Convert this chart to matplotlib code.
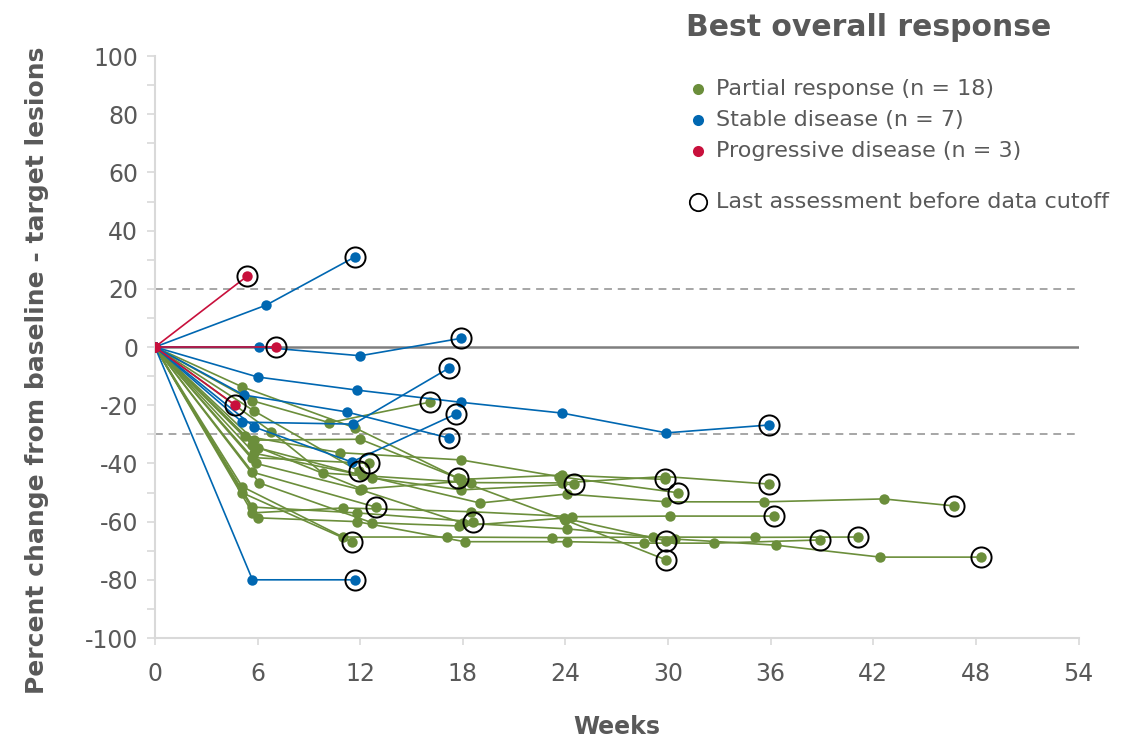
'''
Spider plot of percent change from baseline in target lesions over time,
coloured by best overall response.
'''
import matplotlib
matplotlib.use('Agg')
import matplotlib.pyplot as plt
from matplotlib.lines import Line2D

# ---- Partial response patients (weeks / percent change)
prWeeks = [
    [0, 5.65, 10.2, 16.1],
    [0, 5.06, 11.7, 17.7],
    [0, 5.7, 11.8, 18.6],
    [0, 6.0, 12.7, 17.9, 24.5],
    [0, 5.8, 12.0, 17.9, 23.8, 29.8],
    [0, 5.26, 10.8, 17.9, 23.6, 30.6],
    [0, 6.1, 12.7, 17.8, 23.9, 29.9],
    [0, 5.7, 12.1, 17.9, 24.0, 29.9],
    [0, 5.8, 11.9],
    [0, 5.7, 12.5],
    [0, 5.7, 12.9],
    [0, 5.1, 11.5],
    [0, 6.8, 9.8, 18.5, 23.8, 29.8, 35.9],
    [0, 5.7, 11.0, 18.5, 24.4, 30.1, 36.2],
    [0, 6.0, 11.8, 18.1, 24.1, 28.6, 32.7, 38.9],
    [0, 5.1, 11.0, 17.1, 23.2, 29.1, 35.1, 41.1],
    [0, 5.8, 12.1, 19.0, 24.1, 29.9, 35.6, 42.6, 46.7],
    [0, 5.9, 12.0, 18.0, 24.1, 30.4, 36.3, 42.4, 48.3],
]
prValues = [
    [0, -18.4, -26, -18.9],
    [0, -13.6, -27.8, -45],
    [0, -55, -57, -60],
    [0, -34.6, -45, -49.1, -47.1],
    [0, -32, -31.7, -45.5, -44, -45.5],
    [0, -30.6, -36.3, -38.8, -44.5, -50.1],
    [0, -46.7, -60.4, -61.5, -58.8, -66.6],
    [0, -33.7, -48.8, -46.2, -59.5, -73.2],
    [0, -22, -42.6],
    [0, -38, -40],
    [0, -43, -55],
    [0, -50.1, -66.9],
    [0, -29.1, -43.3, -46.6, -46.7, -44.5, -47.1],
    [0, -57, -55.3, -56.6, -58.3, -58.1, -58.1],
    [0, -58.7, -60, -66.9, -66.9, -67.4, -67.4, -66.3],
    [0, -48, -65.3, -65.3, -65.5, -65.3, -65.4, -65.3],
    [0, -36.5, -44, -53.6, -50.5, -53.2, -53.2, -52.2, -54.6],
    [0, -40, -49, -60.5, -62.5, -66, -68.1, -72.2, -72.2],
]

# ---- Stable disease patients
sdWeeks = [
    [0, 6.5, 11.7],
    [0, 6.1, 12.0, 17.9],
    [0, 6.0, 11.8, 17.9, 23.8, 29.9, 35.9],
    [0, 5.1, 11.6, 17.2],
    [0, 5.2, 11.2, 17.2],
    [0, 5.8, 11.5, 17.6],
    [0, 5.7, 11.7],
]
sdValues = [
    [0, 14.4, 31],
    [0, 0, -3, 3],
    [0, -10.3, -14.8, -19, -22.7, -29.5, -26.8],
    [0, -25.8, -26.5, -7.2],
    [0, -16.5, -22.3, -31.3],
    [0, -27.5, -39.5, -23],
    [0, -80, -80],
]

# ---- Progressive disease patients
pdWeeks = [
    [0, 5.4],
    [0, 7.1],
    [0, 4.7],
]
pdValues = [
    [0, 24.4],
    [0, 0],
    [0, -20],
]

legendLabels = ['Partial response (n = 18)', 'Stable disease (n = 7)',
                'Progressive disease (n = 3)']
xTicks = [0, 6, 12, 18, 24, 30, 36, 42, 48, 54]
yTicks = list(range(-100, 101, 20))

GREEN = '#6b8e3b'
BLUE = '#0067b1'
RED = '#c8103c'
TEXT = '#595959'
AXIS = '#d9d9d9'

plt.rcParams['font.family'] = 'DejaVu Sans'
plt.rcParams['axes.unicode_minus'] = False


def drawGroup(ax, weeks, values, colour, z):
    '''
    Draws one response group: connecting lines, dots and the last-assessment ring.
    '''
    for w, v in zip(weeks, values):
        ax.plot(w, v, color=colour, lw=1.2, marker='o', markersize=7.5,
                markeredgewidth=0, zorder=z)
        ax.plot(w[-1], v[-1], marker='o', markersize=14.5, markerfacecolor='none',
                markeredgecolor='black', markeredgewidth=1.4, zorder=10,
                linestyle='none')


fig = plt.figure(figsize=(11.38, 7.43), dpi=100)
ax = fig.add_axes([0.1362, 0.1413, 0.8116, 0.7833])

# ---- Reference lines
ax.axhline(0, color='#7f7f7f', lw=1.8, zorder=1)
ax.axhline(20, color='#a6a6a6', lw=1.4, linestyle=(0, (4, 3)), zorder=1)
ax.axhline(-30, color='#a6a6a6', lw=1.4, linestyle=(0, (4, 3)), zorder=1)

drawGroup(ax, prWeeks, prValues, GREEN, 3)
drawGroup(ax, sdWeeks, sdValues, BLUE, 4)
drawGroup(ax, pdWeeks, pdValues, RED, 5)

# ---- Axes styling
ax.set_xlim(0, 54)
ax.set_ylim(-100, 100)
ax.set_xticks(xTicks)
ax.set_yticks(yTicks)
ax.set_yticks(range(-90, 100, 20), minor=True)
for side in ['top', 'right']:
    ax.spines[side].set_visible(False)
for side in ['left', 'bottom']:
    ax.spines[side].set_color(AXIS)
    ax.spines[side].set_linewidth(1.5)
ax.tick_params(axis='y', which='both', length=6, width=1.2, color=AXIS,
               labelcolor=TEXT, labelsize=17, pad=6)
ax.tick_params(axis='x', length=5, width=1.2, color=AXIS,
               labelcolor=TEXT, labelsize=17, pad=12)
ax.set_xlabel('Weeks', fontsize=17, fontweight='bold', color=TEXT)
ax.xaxis.set_label_coords(0.5, -0.132)
ax.set_ylabel('Percent change from baseline - target lesions', fontsize=18,
              fontweight='bold', color=TEXT)
ax.yaxis.set_label_coords(-0.115, 0.46)

# ---- Manual legend
fig.text(686 / 1138, 1 - 27 / 743, 'Best overall response', fontsize=21.5,
         fontweight='bold', color=TEXT, ha='left', va='center')
rows = [89, 120, 151]
for y, label, colour in zip(rows, legendLabels, [GREEN, BLUE, RED]):
    fig.add_artist(Line2D([698 / 1138], [1 - y / 743], marker='o', markersize=8,
                          markeredgewidth=0, color=colour, transform=fig.transFigure))
    fig.text(716 / 1138, 1 - y / 743, label, fontsize=16, color=TEXT,
             ha='left', va='center')
fig.add_artist(Line2D([698 / 1138], [1 - 202 / 743], marker='o', markersize=12.5,
                      markerfacecolor='none', markeredgecolor='black',
                      markeredgewidth=1.3, transform=fig.transFigure))
fig.text(716 / 1138, 1 - 202 / 743, 'Last assessment before data cutoff',
         fontsize=16, color=TEXT, ha='left', va='center')

fig.savefig('out.png', dpi=100, facecolor='white')
